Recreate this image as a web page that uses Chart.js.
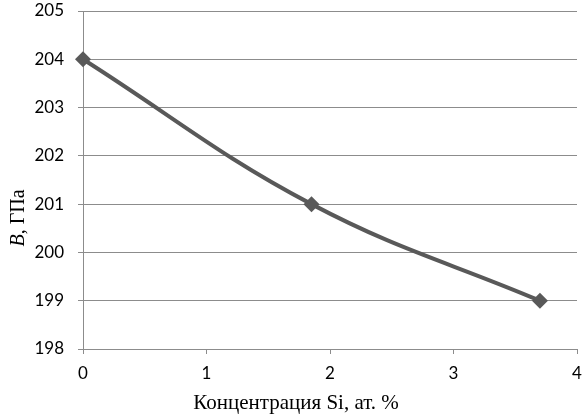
<!DOCTYPE html>
<html>
<head>
<meta charset="utf-8">
<script src="https://cdn.jsdelivr.net/npm/chart.js@4"></script>
<style>
  html, body { margin: 0; padding: 0; background: #fff; }
  #wrap { width: 586px; height: 416px; }
</style>
</head>
<body>
<div id="wrap"><canvas id="chart" width="586" height="416"></canvas></div>
<script>
// Concentration of Si (at. %) and bulk modulus B (GPa)
const siConc = [0, 1.85, 3.7];
const modulusB = [204, 201, 199];
const xTicks = [0, 1, 2, 3, 4];
const yTicks = [198, 199, 200, 201, 202, 203, 204, 205];
const xTitle = 'Концентрация Si, ат. %';
const yTitleItalic = 'B';
const yTitleRest = ', ГПа';

// axis titles drawn by hand so the "B" can be italic
const titlesPlugin = {
    id: 'titles',
    afterDraw(chart) {
        const ctx = chart.ctx;
        const serif = '"Liberation Serif", "Times New Roman", serif';
        ctx.save();
        ctx.fillStyle = '#000';
        ctx.font = '21px ' + serif;
        ctx.textAlign = 'center';
        ctx.textBaseline = 'middle';
        ctx.fillText(xTitle, 296, 403);

        ctx.translate(19, 218);
        ctx.rotate(-Math.PI / 2);
        ctx.font = 'italic 20px ' + serif;
        const w1 = ctx.measureText(yTitleItalic).width;
        ctx.font = '20px ' + serif;
        const w2 = ctx.measureText(yTitleRest).width;
        const x = -(w1 + w2) / 2;
        ctx.textAlign = 'left';
        ctx.font = 'italic 20px ' + serif;
        ctx.fillText(yTitleItalic, x, 0);
        ctx.font = '20px ' + serif;
        ctx.fillText(yTitleRest, x + w1, 0);
        ctx.restore();
    }
};

const tickFont = { family: 'Lato, "Open Sans", sans-serif', size: 17 };

new Chart(document.getElementById('chart'), {
    type: 'line',
    data: {
        datasets: [{
            data: siConc.map((x, i) => ({ x: x, y: modulusB[i] })),
            borderColor: '#595959',
            backgroundColor: '#595959',
            borderWidth: 4,
            tension: 0.4,
            pointStyle: 'rectRot',
            pointRadius: 8,
            pointBorderWidth: 0,
            clip: false
        }]
    },
    options: {
        responsive: false,
        animation: false,
        events: [],
        layout: { padding: { left: 0, right: 9, top: 11, bottom: 0 } },
        plugins: {
            legend: { display: false },
            tooltip: { enabled: false }
        },
        scales: {
            x: {
                type: 'linear',
                min: 0,
                max: 4,
                afterBuildTicks: axis => { axis.ticks = xTicks.map(v => ({ value: v })); },
                afterFit: axis => {
                    axis.height = 67;
                    axis.paddingLeft = 0;
                    axis.paddingRight = 0;
                },
                border: { color: '#8c8c8c', width: 1 },
                grid: {
                    drawOnChartArea: false,
                    drawTicks: true,
                    tickLength: 5,
                    color: '#8c8c8c'
                },
                ticks: { color: '#000', font: tickFont, padding: 9, maxRotation: 0 }
            },
            y: {
                min: 198,
                max: 205,
                afterBuildTicks: axis => { axis.ticks = yTicks.map(v => ({ value: v })); },
                afterFit: axis => {
                    axis.width = 83;
                    axis.paddingTop = 0;
                    axis.paddingBottom = 0;
                },
                border: { color: '#8c8c8c', width: 1 },
                grid: {
                    color: '#8c8c8c',
                    lineWidth: 1,
                    drawTicks: true,
                    tickLength: 5
                },
                ticks: { color: '#000', font: tickFont, padding: 14 }
            }
        }
    },
    plugins: [titlesPlugin]
});
</script>
</body>
</html>
